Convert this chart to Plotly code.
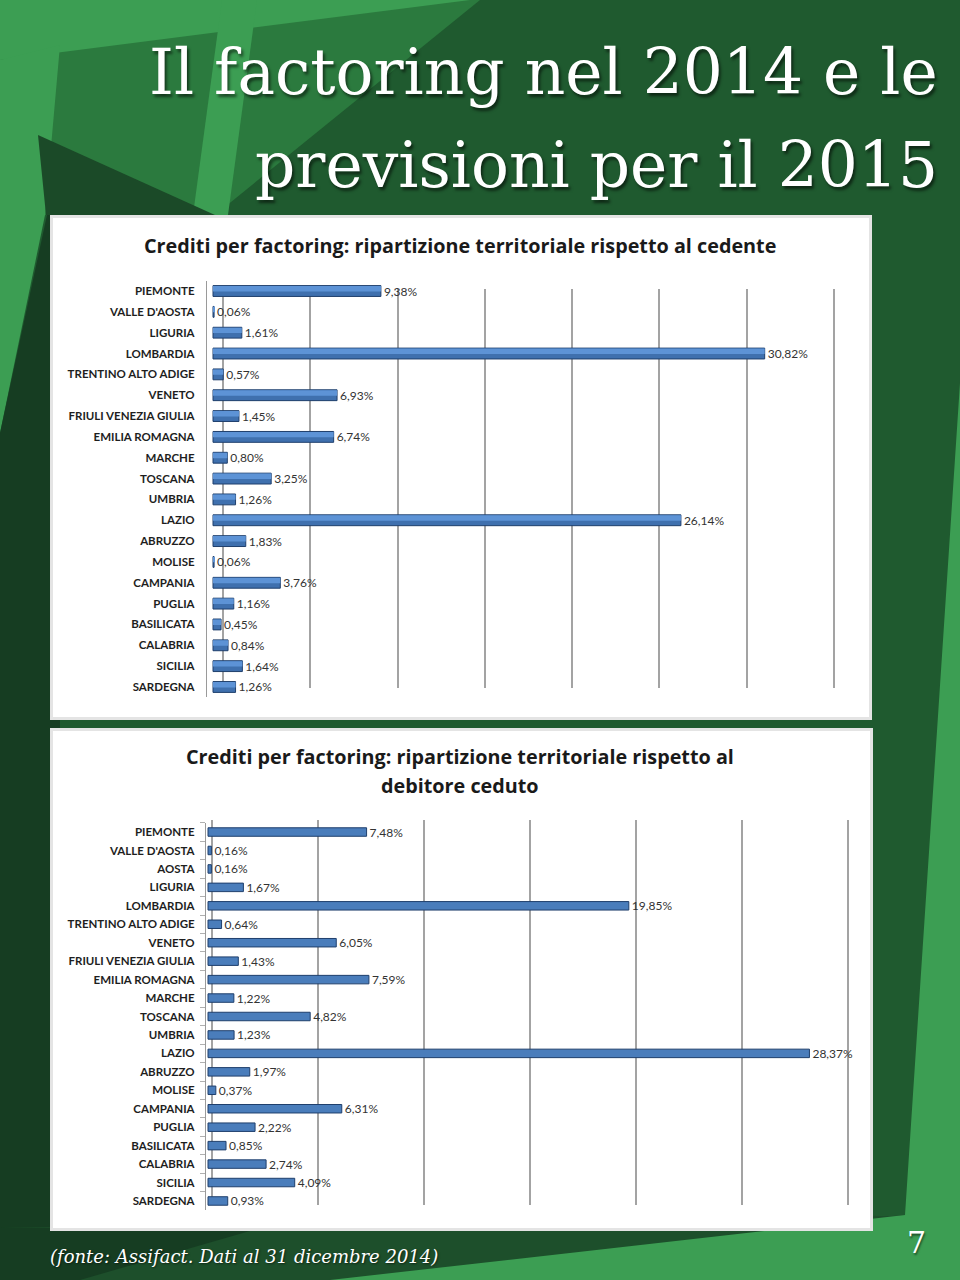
import plotly.graph_objects as go

W, H = 960, 1280

# ---------------- data ----------------
regions_cedente = ["PIEMONTE", "VALLE D'AOSTA", "LIGURIA", "LOMBARDIA", "TRENTINO ALTO ADIGE",
                   "VENETO", "FRIULI VENEZIA GIULIA", "EMILIA ROMAGNA", "MARCHE", "TOSCANA",
                   "UMBRIA", "LAZIO", "ABRUZZO", "MOLISE", "CAMPANIA", "PUGLIA", "BASILICATA",
                   "CALABRIA", "SICILIA", "SARDEGNA"]
values_cedente = [9.38, 0.06, 1.61, 30.82, 0.57, 6.93, 1.45, 6.74, 0.80, 3.25,
                  1.26, 26.14, 1.83, 0.06, 3.76, 1.16, 0.45, 0.84, 1.64, 1.26]

regions_debitore = ["PIEMONTE", "VALLE D'AOSTA", "AOSTA", "LIGURIA", "LOMBARDIA",
                    "TRENTINO ALTO ADIGE", "VENETO", "FRIULI VENEZIA GIULIA", "EMILIA ROMAGNA",
                    "MARCHE", "TOSCANA", "UMBRIA", "LAZIO", "ABRUZZO", "MOLISE", "CAMPANIA",
                    "PUGLIA", "BASILICATA", "CALABRIA", "SICILIA", "SARDEGNA"]
values_debitore = [7.48, 0.16, 0.16, 1.67, 19.85, 0.64, 6.05, 1.43, 7.59, 1.22, 4.82, 1.23,
                   28.37, 1.97, 0.37, 6.31, 2.22, 0.85, 2.74, 4.09, 0.93]

title_line1 = "Il factoring nel 2014 e le"
title_line2 = "previsioni per il 2015"
chart1_title = "Crediti per factoring: ripartizione territoriale rispetto al cedente"
chart2_title_1 = "Crediti per factoring: ripartizione territoriale rispetto al"
chart2_title_2 = "debitore ceduto"
footer = "(fonte: Assifact. Dati al 31 dicembre 2014)"
page_no = "7"


def fmt(v):
    return f"{v:.2f}".replace(".", ",") + "%"


def px(x):
    return x / W


def py(y):
    return 1 - y / H


def poly(points, color):
    d = "M " + " L ".join(f"{px(x):.5f} {py(y):.5f}" for x, y in points) + " Z"
    return dict(type="path", xref="paper", yref="paper", path=d,
                fillcolor=color, line=dict(width=0), layer="below")


BAR = "#3f70ae"
BAR_TOP = "#5d93d6"
BAR_EDGE = "#1f3f6c"
BAR2 = "#4a7dbb"
GRID = "#a3a3a3"
LABEL_FONT = dict(family="Lato, 'Open Sans', sans-serif", size=11.5, color="#1e1e1e", weight="bold")
VAL_FONT = dict(family="Lato, 'Open Sans', sans-serif", size=12, color="#333333")

fig = go.Figure()

# empty helper traces so the back-wall grid subplots (drawn first, i.e. underneath) exist
fig.add_trace(go.Scatter(x=[], y=[], xaxis="x", yaxis="y", showlegend=False, hoverinfo="skip"))
fig.add_trace(go.Scatter(x=[], y=[], xaxis="x2", yaxis="y2", showlegend=False, hoverinfo="skip"))

# chart 1 bars (body + lighter top face for the 3-D look)
fig.add_trace(go.Bar(
    y=regions_cedente, x=values_cedente, orientation="h", width=0.52, offset=-0.26,
    marker=dict(color=BAR, line=dict(color=BAR_EDGE, width=1)),
    text=[fmt(v) for v in values_cedente], textposition="outside",
    textfont=VAL_FONT, constraintext="none", cliponaxis=False,
    xaxis="x3", yaxis="y3", hoverinfo="skip", showlegend=False,
))
fig.add_trace(go.Bar(
    y=regions_cedente, x=values_cedente, orientation="h", width=0.26, offset=-0.24,
    marker=dict(color=BAR_TOP, line=dict(width=0)),
    xaxis="x3", yaxis="y3", hoverinfo="skip", showlegend=False,
))
# chart 2 bars
fig.add_trace(go.Bar(
    y=regions_debitore, x=values_debitore, orientation="h", width=0.46, offset=-0.23,
    marker=dict(color=BAR2, line=dict(color=BAR_EDGE, width=1)),
    text=[fmt(v) for v in values_debitore], textposition="outside",
    textfont=VAL_FONT, constraintext="none", cliponaxis=False,
    xaxis="x4", yaxis="y4", hoverinfo="skip", showlegend=False,
))

# ---------------- geometry ----------------
# bars (front face)
c1_zero, c1_scale = 213, 17.9
c1_left, c1_right = 207, 839.5
c2_zero, c2_scale = 208, 21.2
c2_left, c2_right = 206, 848
# back wall grid
g1_zero, g1_scale, g1_left, g1_right = 223, 611 / 35, 214, 842
g2_zero, g2_scale, g2_left, g2_right = 212, 636 / 30, 207, 853

NOAX = dict(showgrid=False, zeroline=False, showticklabels=False, showline=False, ticks="")

layout_axes = dict(
    # back-wall gridlines chart 1
    xaxis=dict(domain=[px(g1_left), px(g1_right)],
               range=[(g1_left - g1_zero) / g1_scale, (g1_right - g1_zero) / g1_scale],
               dtick=5, tick0=0, anchor="y", showgrid=True, gridcolor=GRID, gridwidth=1.6,
               zeroline=False, showticklabels=False, showline=False, ticks=""),
    yaxis=dict(domain=[py(688), py(289)], range=[0, 1], anchor="x", **NOAX),
    # back-wall gridlines chart 2
    xaxis2=dict(domain=[px(g2_left), px(g2_right)],
                range=[(g2_left - g2_zero) / g2_scale, (g2_right - g2_zero) / g2_scale],
                dtick=5, tick0=0, anchor="y2", showgrid=True, gridcolor=GRID, gridwidth=1.6,
                zeroline=False, showticklabels=False, showline=False, ticks=""),
    yaxis2=dict(domain=[py(1205), py(820)], range=[0, 1], anchor="x2", **NOAX),
    # chart 1 bars
    xaxis3=dict(domain=[px(c1_left), px(c1_right)],
                range=[(c1_left - c1_zero) / c1_scale, (c1_right - c1_zero) / c1_scale],
                anchor="y3", **NOAX),
    yaxis3=dict(domain=[py(697.4), py(280.6)], autorange="reversed", anchor="x3",
                showgrid=False, showline=True, linecolor="#9a9a9a", linewidth=1.2,
                ticks="", tickfont=LABEL_FONT, ticklabelstandoff=9),
    # chart 2 bars
    xaxis4=dict(domain=[px(c2_left), px(c2_right)],
                range=[(c2_left - c2_zero) / c2_scale, (c2_right - c2_zero) / c2_scale],
                anchor="y4", **NOAX),
    yaxis4=dict(domain=[py(1210.2), py(822.8)], autorange="reversed", anchor="x4",
                showgrid=False, showline=True, linecolor="#9a9a9a", linewidth=1.2,
                ticks="outside", tickson="boundaries", ticklen=5, tickcolor="#b0b0b0",
                tickfont=LABEL_FONT, ticklabelstandoff=8),
)

# ---------------- background ----------------
DARK = "#1f5a2f"
MED = "#2b7a3e"
LIGHT = "#3c9e53"
DARKEST = "#163d22"
shapes = [
    poly([(0, 0), (W, 0), (W, H), (0, H)], DARK),
    poly([(0, 0), (480, 0), (215, 215), (0, 215)], MED),
    poly([(0, 0), (470, 0), (0, 60)], LIGHT),
    poly([(222, 0), (257, 0), (228, 215), (193, 215)], LIGHT),
    poly([(0, 60), (60, 45), (45, 215), (0, 433)], LIGHT),
    poly([(38, 135), (215, 215), (46, 215)], "#1b4a28"),
    poly([(0, 433), (47, 215), (60, 215), (60, H), (0, H)], DARKEST),
    poly([(W, 383), (W, H), (250, H), (300, 1232), (905, 1215)], LIGHT),
    poly([(0, 1228), (905, 1215), (330, 1280), (0, H)], "#1d4f2b"),
    poly([(0, 1228), (260, 1228), (80, 1280), (0, 1280)], DARKEST),
    # panels
    dict(type="rect", xref="paper", yref="paper", x0=px(50), x1=px(872), y0=py(720), y1=py(215),
         fillcolor="#e4e4e4", line=dict(width=0), layer="below"),
    dict(type="rect", xref="paper", yref="paper", x0=px(53), x1=px(869), y0=py(717), y1=py(218),
         fillcolor="white", line=dict(width=0), layer="below"),
    dict(type="rect", xref="paper", yref="paper", x0=px(50), x1=px(873), y0=py(1231), y1=py(728),
         fillcolor="#e4e4e4", line=dict(width=0), layer="below"),
    dict(type="rect", xref="paper", yref="paper", x0=px(53), x1=px(870), y0=py(1228), y1=py(731),
         fillcolor="white", line=dict(width=0), layer="below"),
]

TITLE_FONT = dict(family="'DejaVu Serif', serif", size=63, color="white",
                  shadow="2px 3px 3px rgba(0,0,0,0.55)")
CT_FONT = dict(family="'Open Sans', Lato, sans-serif", size=19.8, color="#1a1a1a", weight="bold")

annotations = [
    dict(text=title_line1, x=px(940), y=py(73), xanchor="right", yanchor="middle",
         font=TITLE_FONT),
    dict(text=title_line2, x=px(940), y=py(166), xanchor="right", yanchor="middle",
         font=TITLE_FONT),
    dict(text=chart1_title, x=px(460), y=py(245), xanchor="center", yanchor="middle", font=CT_FONT),
    dict(text=chart2_title_1, x=px(460), y=py(756), xanchor="center", yanchor="middle", font=CT_FONT),
    dict(text=chart2_title_2, x=px(460), y=py(785), xanchor="center", yanchor="middle", font=CT_FONT),
    dict(text=footer, x=px(48), y=py(1256), xanchor="left", yanchor="middle",
         font=dict(family="'DejaVu Serif', serif", size=18, color="white", style="italic",
                   shadow="1px 1px 2px rgba(0,0,0,0.5)")),
    dict(text=page_no, x=px(916), y=py(1242), xanchor="center", yanchor="middle",
         font=dict(family="'DejaVu Serif', serif", size=30, color="white",
                   shadow="1px 2px 2px rgba(0,0,0,0.5)")),
]
for a in annotations:
    a.update(xref="paper", yref="paper", showarrow=False)

fig.update_layout(
    width=W, height=H, autosize=False,
    margin=dict(l=0, r=0, t=0, b=0, pad=0),
    paper_bgcolor=DARK, plot_bgcolor="rgba(0,0,0,0)",
    barmode="overlay",
    shapes=shapes, annotations=annotations, showlegend=False,
    **layout_axes,
)

fig.write_html("out.html")
